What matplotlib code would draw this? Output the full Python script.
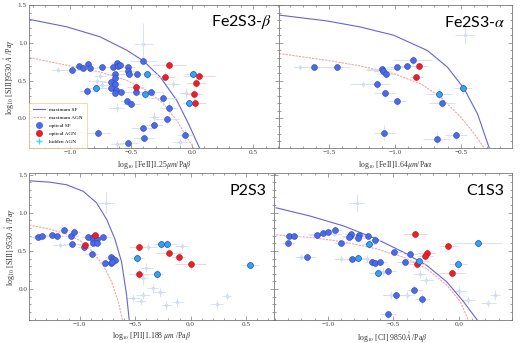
import matplotlib
matplotlib.use("Agg")
import matplotlib.pyplot as plt
from matplotlib.lines import Line2D
from matplotlib.ticker import MultipleLocator

# --- Data Section ---
# points are (x, y, xerr, yerr)

# Fe2S3-beta panel
FE2B_SF = [
    (-0.986, 0.646, 0.08, 0.03), (-0.926, 0.690, 0.05, 0.03), (-0.891, 0.673, 0.05, 0.03),
    (-0.850, 0.720, 0.04, 0.04), (-0.836, 0.673, 0.06, 0.03), (-0.738, 0.680, 0.05, 0.03),
    (-0.645, 0.680, 0.06, 0.03), (-0.617, 0.735, 0.05, 0.04), (-0.607, 0.700, 0.04, 0.03),
    (-0.590, 0.712, 0.05, 0.03), (-0.628, 0.584, 0.06, 0.04), (-0.628, 0.540, 0.04, 0.05),
    (-0.667, 0.478, 0.06, 0.06), (-0.634, 0.451, 0.05, 0.05), (-0.667, 0.407, 0.07, 0.05),
    (-0.623, 0.372, 0.06, 0.05), (-0.628, 0.336, 0.05, 0.05), (-0.579, 0.345, 0.06, 0.05),
    (-0.858, 0.363, 0.07, 0.06), (-0.527, 0.680, 0.06, 0.03), (-0.522, 0.628, 0.08, 0.04),
    (-0.519, 0.584, 0.06, 0.04), (-0.448, 0.584, 0.07, 0.04), (-0.459, 0.345, 0.08, 0.05),
    (-0.339, 0.345, 0.10, 0.05), (-0.399, 0.761, 0.11, 0.06), (-0.533, 0.235, 0.06, 0.05),
    (-0.500, 0.195, 0.07, 0.05), (-0.240, 0.265, 0.12, 0.08), (-0.191, 0.142, 0.07, 0.08),
    (-0.208, -0.013, 0.10, 0.06), (-0.404, -0.128, 0.10, 0.06), (-0.309, -0.084, 0.07, 0.06),
    (-0.396, -0.261, 0.08, 0.05), (-0.773, -0.186, 0.10, 0.06), (-0.522, -0.323, 0.08, 0.05),
    (-0.055, -0.221, 0.06, 0.08),
]
FE2B_AGN = [
    (-0.191, 0.704, 0.14, 0.05), (-0.219, 0.549, 0.08, 0.06), (-0.462, 0.420, 0.07, 0.06),
    (0.057, 0.566, 0.13, 0.05), (0.033, 0.469, 0.08, 0.07), (0.011, 0.323, 0.07, 0.06),
    (0.027, 0.204, 0.09, 0.06),
]
FE2B_HID = [
    (-0.784, 0.403, 0.07, 0.05), (-0.366, 0.584, 0.09, 0.05), (-0.385, 0.323, 0.08, 0.06),
    (0.005, 0.593, 0.07, 0.05), (-0.027, 0.204, 0.06, 0.06),
]
FE2B_ALL = [
    (-0.399, 0.990, 0.08, 0.27), (-1.096, 0.646, 0.05, 0.03), (-0.780, 0.500, 0.07, 0.05),
    (-0.754, 0.557, 0.05, 0.04), (-0.740, 0.440, 0.06, 0.05), (-0.153, 0.460, 0.06, 0.05),
    (-0.311, 0.018, 0.04, 0.07), (-0.617, 0.142, 0.06, 0.06), (-0.098, -0.314, 0.06, 0.05),
    (-0.617, -0.336, 0.05, 0.05), (-0.945, -0.180, 0.06, 0.04), (-0.050, 0.340, 0.06, 0.06),
]
FE2B_SF_LINE = [(-1.333, 1.31), (-1.027, 1.212), (-0.754, 1.08), (-0.536, 0.903), (-0.399, 0.761),
                (-0.262, 0.549), (-0.126, 0.239), (-0.030, -0.07), (0.060, -0.39)]
FE2B_AGN_LINE = [(-1.333, 0.805), (-1.027, 0.704), (-0.754, 0.615), (-0.536, 0.504), (-0.372, 0.372),
                 (-0.235, 0.195), (-0.126, -0.027), (-0.044, -0.248), (0.011, -0.39)]

# Fe2S3-alpha panel
FE2A_SF = [
    (-1.615, 0.677, 0.15, 0.03), (-1.439, 0.681, 0.10, 0.03), (-1.097, 0.650, 0.12, 0.04),
    (-1.092, 0.628, 0.06, 0.04), (-1.071, 0.588, 0.06, 0.05), (-0.985, 0.681, 0.08, 0.04),
    (-0.908, 0.695, 0.07, 0.04), (-0.865, 0.770, 0.15, 0.06), (-1.140, 0.456, 0.10, 0.05),
    (-1.079, 0.336, 0.08, 0.06), (-0.985, 0.230, 0.07, 0.06), (-0.640, 0.199, 0.10, 0.06),
    (-1.082, -0.186, 0.08, 0.10), (-0.684, -0.265, 0.10, 0.08), (-0.536, -0.221, 0.08, 0.06),
]
FE2A_AGN = [(-0.816, 0.699, 0.07, 0.05), (-0.837, 0.549, 0.05, 0.05)]
FE2A_HID = [(-0.668, 0.319, 0.10, 0.08), (-0.482, 0.398, 0.07, 0.07)]
FE2A_ALL = [(-0.470, 1.110, 0.07, 0.12), (-1.240, 0.460, 0.10, 0.04), (-1.720, 0.677, 0.05, 0.03),
            (-1.150, 0.640, 0.08, 0.03)]
FE2A_SF_LINE = [(-1.883, 1.367), (-1.52, 1.29), (-1.265, 1.21), (-1.01, 1.10), (-0.755, 0.90),
                (-0.602, 0.68), (-0.474, 0.394), (-0.372, 0.06), (-0.283, -0.39)]
FE2A_AGN_LINE = [(-1.883, 0.858), (-1.52, 0.77), (-1.265, 0.695), (-1.01, 0.593), (-0.806, 0.46),
                 (-0.653, 0.283), (-0.50, 0.018), (-0.398, -0.20), (-0.321, -0.39)]

# P2S3 panel
P2_SF = [
    (-1.372, 0.681, 0.06, 0.03), (-1.336, 0.698, 0.05, 0.03), (-1.249, 0.703, 0.06, 0.03),
    (-1.201, 0.690, 0.06, 0.03), (-1.138, 0.776, 0.05, 0.05), (-1.075, 0.698, 0.06, 0.04),
    (-1.048, 0.754, 0.05, 0.04), (-1.069, 0.595, 0.08, 0.04), (-0.958, 0.547, 0.06, 0.05),
    (-0.928, 0.677, 0.06, 0.04), (-0.877, 0.685, 0.06, 0.04), (-0.877, 0.642, 0.05, 0.04),
    (-0.841, 0.655, 0.05, 0.04), (-0.877, 0.603, 0.05, 0.04), (-0.847, 0.603, 0.05, 0.04),
    (-0.787, 0.685, 0.06, 0.04), (-0.892, 0.457, 0.06, 0.05), (-0.721, 0.418, 0.05, 0.05),
    (-0.703, 0.397, 0.05, 0.05), (-0.682, 0.384, 0.05, 0.05), (-0.721, 0.345, 0.05, 0.05),
    (-0.706, 0.353, 0.05, 0.05), (-0.772, 0.336, 0.05, 0.05),
]
P2_AGN = [
    (-0.859, 0.711, 0.06, 0.04), (-0.955, 0.578, 0.05, 0.04), (-0.462, 0.556, 0.09, 0.05),
    (-0.198, 0.470, 0.12, 0.05), (-0.108, 0.418, 0.06, 0.06), (0.000, 0.323, 0.14, 0.06),
    (-0.465, 0.198, 0.09, 0.06),
]
P2_HID = [
    (-0.480, 0.401, 0.06, 0.06), (-0.267, 0.586, 0.06, 0.05), (-0.210, 0.595, 0.08, 0.05),
    (-0.306, 0.198, 0.06, 0.06), (0.532, 0.319, 0.08, 0.05),
]
P2_ALL = [
    (-0.763, 1.130, 0.07, 0.14), (-0.400, 0.280, 0.06, 0.06), (-0.430, 0.140, 0.05, 0.08),
    (-0.340, 0.010, 0.05, 0.06), (-0.430, -0.080, 0.06, 0.05), (-0.450, -0.160, 0.05, 0.05),
    (-0.280, -0.040, 0.06, 0.06), (-0.520, -0.120, 0.06, 0.05), (-0.220, -0.210, 0.05, 0.06),
    (-0.120, -0.170, 0.05, 0.06), (0.234, -0.198, 0.06, 0.05), (0.324, -0.086, 0.04, 0.05),
    (-1.400, 0.680, 0.05, 0.03), (-1.180, 0.580, 0.06, 0.04), (-0.380, 0.550, 0.08, 0.05),
    (-0.080, 0.560, 0.06, 0.05),
]
P2_SF_LINE = [(-1.453, 1.418), (-1.267, 1.40), (-1.117, 1.366), (-0.967, 1.28), (-0.847, 1.129),
              (-0.757, 0.914), (-0.682, 0.655), (-0.622, 0.353), (-0.577, -0.078), (-0.553, -0.41)]
P2_AGN_LINE = [(-1.453, 0.84), (-1.267, 0.784), (-1.117, 0.72), (-0.997, 0.634), (-0.877, 0.483),
               (-0.787, 0.31), (-0.712, 0.095), (-0.652, -0.164), (-0.613, -0.41)]

# C1S3 panel
C1_SF = [
    (-1.305, 0.599, 0.05, 0.04), (-1.292, 0.690, 0.05, 0.03), (-1.256, 0.698, 0.05, 0.03),
    (-1.160, 0.418, 0.07, 0.05), (-1.079, 0.707, 0.06, 0.03), (-1.033, 0.733, 0.06, 0.03),
    (-1.000, 0.754, 0.06, 0.04), (-0.944, 0.780, 0.05, 0.04), (-0.896, 0.603, 0.06, 0.04),
    (-0.830, 0.698, 0.06, 0.04), (-0.820, 0.716, 0.05, 0.04), (-0.835, 0.681, 0.05, 0.04),
    (-0.759, 0.711, 0.06, 0.04), (-0.766, 0.664, 0.05, 0.04), (-0.690, 0.698, 0.06, 0.04),
    (-0.637, 0.647, 0.05, 0.04), (-0.815, 0.388, 0.06, 0.05), (-0.665, 0.353, 0.05, 0.05),
    (-0.637, 0.345, 0.05, 0.05), (-0.602, 0.358, 0.05, 0.05), (-0.541, 0.233, 0.06, 0.05),
    (-0.497, 0.487, 0.07, 0.05), (-0.371, 0.461, 0.06, 0.05), (-0.414, 0.353, 0.06, 0.05),
    (-0.482, -0.082, 0.10, 0.06), (-0.340, -0.013, 0.06, 0.07), (-0.279, -0.134, 0.06, 0.07),
    (-0.541, -0.328, 0.06, 0.05),
]
C1_AGN = [
    (-0.335, 0.716, 0.09, 0.05), (-0.084, 0.560, 0.07, 0.05), (-0.246, 0.474, 0.07, 0.05),
    (-0.261, 0.431, 0.06, 0.05), (-0.322, 0.332, 0.06, 0.05), (-0.056, 0.211, 0.10, 0.05),
]
C1_HID = [
    (-0.683, 0.590, 0.06, 0.05), (-0.772, 0.405, 0.06, 0.05), (-0.617, 0.211, 0.07, 0.05),
    (-0.302, 0.366, 0.07, 0.06), (-0.010, 0.328, 0.07, 0.06), (0.147, 0.603, 0.18, 0.05),
]
C1_ALL = [
    (-0.780, 1.130, 0.06, 0.12), (-1.200, 0.420, 0.05, 0.04), (-1.100, 0.720, 0.05, 0.03),
    (-0.950, 0.720, 0.05, 0.03), (-0.900, 0.400, 0.05, 0.05), (-0.700, 0.400, 0.05, 0.05),
    (-0.580, 0.220, 0.06, 0.05), (-0.520, -0.080, 0.06, 0.05), (-0.400, -0.080, 0.05, 0.05),
    (-0.300, 0.200, 0.05, 0.05), (0.000, -0.020, 0.05, 0.06), (0.070, -0.140, 0.05, 0.05),
    (0.223, -0.186, 0.06, 0.05), (0.274, -0.078, 0.04, 0.06), (-0.250, 0.120, 0.05, 0.05),
]
C1_SF_LINE = [(-1.393, 1.065), (-1.135, 0.957), (-0.881, 0.828), (-0.627, 0.655), (-0.424, 0.483),
              (-0.246, 0.31), (-0.094, 0.095), (0.033, -0.164), (0.14, -0.41)]
C1_AGN_LINE = [(-1.393, 0.711), (-1.135, 0.677), (-0.881, 0.62), (-0.627, 0.526), (-0.424, 0.418),
               (-0.246, 0.267), (-0.094, 0.052), (0.008, -0.164), (0.071, -0.41)]

# --- Style ---
SF_COLOR = "#4a6ae6"
SF_EDGE = "#2b45b8"
AGN_COLOR = "#e8202a"
HID_COLOR = "#2aa8f2"
LINE_SF = "#6464d8"
LINE_AGN = "#f2a4a4"
ERR_BLUE = "#d2dcf4"
ERR_RED = "#f7cccc"

plt.rcParams["font.family"] = "Liberation Serif"
plt.rcParams["mathtext.fontset"] = "stix"


def cols(points):
    return [list(c) for c in zip(*points)]


def draw_panel(ax, sf, agn, hid, faint, sf_line, agn_line):
    # faint background galaxies
    x, y, xe, ye = cols(faint)
    ax.errorbar(x, y, xerr=xe, yerr=ye, fmt="o", ms=1.5, color=ERR_BLUE, ecolor=ERR_BLUE,
                elinewidth=0.6, zorder=1)

    lx, ly = cols(sf_line)
    ax.plot(lx, ly, color=LINE_SF, lw=0.8, zorder=2)
    lx, ly = cols(agn_line)
    ax.plot(lx, ly, color=LINE_AGN, lw=0.8, ls=(0, (2, 1)), zorder=2)

    x, y, xe, ye = cols(sf)
    ax.errorbar(x, y, xerr=xe, yerr=ye, fmt="none", ecolor=ERR_BLUE, elinewidth=0.6, zorder=3)
    ax.scatter(x, y, s=18, color=SF_COLOR, edgecolors=SF_EDGE, linewidths=0.4, zorder=5)

    x, y, xe, ye = cols(agn)
    ax.errorbar(x, y, xerr=xe, yerr=ye, fmt="none", ecolor=ERR_RED, elinewidth=0.6, zorder=3)
    ax.scatter(x, y, s=18, color=AGN_COLOR, edgecolors="#c01018", linewidths=0.4, zorder=5)

    x, y, xe, ye = cols(hid)
    ax.errorbar(x, y, xerr=xe, yerr=ye, fmt="none", ecolor=ERR_BLUE, elinewidth=0.6, zorder=3)
    ax.scatter(x, y, s=18, color=HID_COLOR, edgecolors=SF_EDGE, linewidths=0.5, zorder=5)


def style_axes(ax, xlim, ylim, xlabel, xlabel_y, ylabel=None, show_y=True):
    ax.set_xlim(*xlim)
    ax.set_ylim(*ylim)
    ax.xaxis.set_major_locator(MultipleLocator(0.5))
    ax.xaxis.set_minor_locator(MultipleLocator(0.1))
    ax.yaxis.set_major_locator(MultipleLocator(0.5))
    ax.yaxis.set_minor_locator(MultipleLocator(0.1))
    ax.tick_params(which="both", direction="in", top=True, right=True, colors="#777777",
                   labelcolor="#444444", labelsize=5.2, width=0.5, pad=1.5)
    ax.tick_params(which="major", length=3)
    ax.tick_params(which="minor", length=1.5)
    fmt = plt.FuncFormatter(lambda v, p: f"{v:.1f}".replace("-", "\u2212"))
    ax.xaxis.set_major_formatter(fmt)
    ax.yaxis.set_major_formatter(fmt)
    if not show_y:
        ax.tick_params(labelleft=False)
    for s in ax.spines.values():
        s.set_color("#777777")
        s.set_linewidth(0.6)
    ax.set_xlabel(xlabel, fontsize=5.6, color="#333333")
    ax.xaxis.set_label_coords(0.5, xlabel_y)
    if ylabel:
        ax.set_ylabel(ylabel, fontsize=5.8, color="#333333", labelpad=1)


def add_title(ax, text):
    ax.text(0.97, 0.88, text, transform=ax.transAxes, ha="right", va="center",
            fontsize=11.5, family="Lato", color="black")


def main():
    fig = plt.figure(figsize=(5.27, 3.43), dpi=100)

    ax1 = fig.add_axes([0.055, 0.5685, 0.4744, 0.4169])
    ax2 = fig.add_axes([0.5294, 0.5685, 0.4421, 0.4169])
    ax3 = fig.add_axes([0.0556, 0.0680, 0.4643, 0.4276])
    ax4 = fig.add_axes([0.5199, 0.0680, 0.4511, 0.4276])

    draw_panel(ax1, FE2B_SF, FE2B_AGN, FE2B_HID, FE2B_ALL, FE2B_SF_LINE, FE2B_AGN_LINE)
    draw_panel(ax2, FE2A_SF, FE2A_AGN, FE2A_HID, FE2A_ALL, FE2A_SF_LINE, FE2A_AGN_LINE)
    draw_panel(ax3, P2_SF, P2_AGN, P2_HID, P2_ALL, P2_SF_LINE, P2_AGN_LINE)
    draw_panel(ax4, C1_SF, C1_AGN, C1_HID, C1_ALL, C1_SF_LINE, C1_AGN_LINE)

    style_axes(ax1, (-1.335, 0.71), (-0.39, 1.5),
               r"log$_{10}$ [FeII]1.25$\mu m$/Pa$\beta$", -0.078,
               r"log$_{10}$ [SIII]9530 $\AA$ /Pa$\gamma$")
    style_axes(ax2, (-1.883, -0.11), (-0.39, 1.5),
               r"log$_{10}$ [FeII]1.64$\mu m$/Pa$\alpha$", -0.078, show_y=False)
    style_axes(ax3, (-1.453, 0.75), (-0.40, 1.52),
               r"log$_{10}$ [PII]1.188 $\mu m$ /Pa$\beta$", -0.072,
               r"log$_{10}$ [SIII] 9530 $\AA$ /Pa$\gamma$")
    style_axes(ax4, (-1.409, 0.40), (-0.40, 1.52),
               r"log$_{10}$ [CI] 9850$\AA$ /Pa$\beta$", -0.066, show_y=False)

    add_title(ax1, r"Fe2S3-$\beta$")
    add_title(ax2, r"Fe2S3-$\alpha$")
    add_title(ax3, "P2S3")
    add_title(ax4, "C1S3")

    handles = [
        Line2D([], [], color=LINE_SF, lw=0.8),
        Line2D([], [], color=LINE_AGN, lw=0.8, ls=(0, (2, 1))),
        Line2D([], [], ls="none", marker="o", ms=4, color=SF_COLOR),
        Line2D([], [], ls="none", marker="o", ms=4, color=AGN_COLOR),
        Line2D([], [], ls="none", marker="+", ms=4, color="#30e0f0"),
    ]
    labels = ["maximum SF", "maximum AGN", "optical SF", "optical AGN", "hidden AGN"]
    leg = ax1.legend(handles, labels, loc="lower left", fontsize=3.8, frameon=True,
                     borderpad=0.5, labelspacing=0.6, handlelength=2.2, borderaxespad=0.3)
    leg.get_frame().set_edgecolor("#e8c890")
    leg.get_frame().set_linewidth(0.6)
    leg.get_frame().set_boxstyle("square")

    fig.savefig("out.png", dpi=100)


if __name__ == "__main__":
    main()
